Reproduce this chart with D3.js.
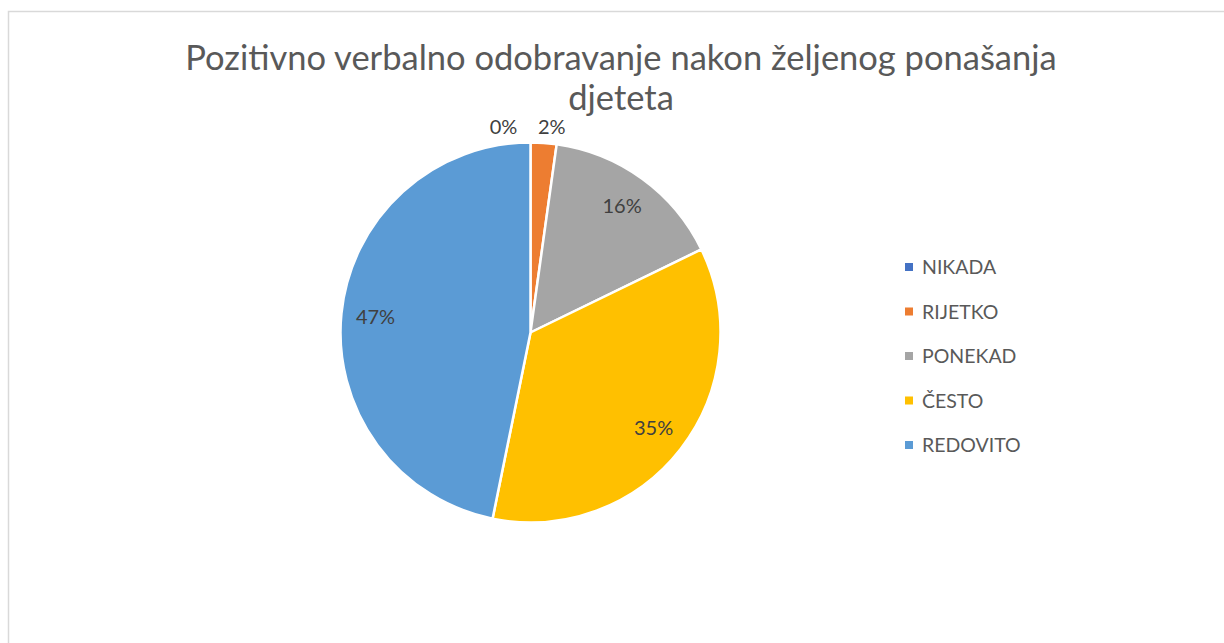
<!DOCTYPE html>
<html>
<head>
<meta charset="utf-8">
<script src="https://cdn.jsdelivr.net/npm/d3@7"></script>
<style>
  body { margin: 0; background: #fff; }
  svg text { font-family: Lato, "Open Sans", sans-serif; }
</style>
</head>
<body>
<div id="container"></div>
<script>
// chart data (percent of answers)
var categories = ["NIKADA", "RIJETKO", "PONEKAD", "ČESTO", "REDOVITO"];
var percents = [0, 2.2, 15.6, 35.4, 46.8];
var colors = ["#4472C4", "#ED7D31", "#A5A5A5", "#FFC000", "#5B9BD5"];
var titleLines = ["Pozitivno verbalno odobravanje nakon željenog ponašanja", "djeteta"];

var width = 1224, height = 643;
var cx = 530.5, cy = 332.5, radius = 190;

var svg = d3.select("#container")
  .append("svg")
  .attr("width", width)
  .attr("height", height);

// chart border (Excel style)
svg.append("rect")
  .attr("x", 8.5)
  .attr("y", 11.5)
  .attr("width", width)
  .attr("height", height)
  .style("fill", "#fff")
  .style("stroke", "#d9d9d9")
  .style("stroke-width", 1.5);

// title
svg.append("text")
  .attr("x", 621)
  .attr("y", 70)
  .attr("text-anchor", "middle")
  .style("font-size", "34.5px")
  .style("fill", "#595959")
  .selectAll("tspan")
  .data(titleLines)
  .enter().append("tspan")
  .attr("x", 621)
  .attr("dy", function(d, i) { return i === 0 ? 0 : 40; })
  .text(function(d) { return d; });

var total = d3.sum(percents);
var data = categories.map(function(c, i) { return {key: c, value: percents[i], color: colors[i]}; });

var pie = d3.pie().sort(null).value(function(d) { return d.value; });
var arcs = pie(data);

var arc = d3.arc().innerRadius(0).outerRadius(radius);
var labelArc = d3.arc().innerRadius(radius * 0.82).outerRadius(radius * 0.82);
var outerArc = d3.arc().innerRadius(radius + 16).outerRadius(radius + 16);

var g = svg.append("g").attr("transform", "translate(" + cx + "," + cy + ")");

g.selectAll("path")
  .data(arcs)
  .enter().append("path")
  .attr("d", arc)
  .style("fill", function(d) { return d.data.color; })
  .style("stroke", "#fff")
  .style("stroke-width", 2.5)
  .style("stroke-linejoin", "round");

// data labels: small slices outside at the top, the rest inside
var outsideCount = 0;
g.selectAll("text.lbl")
  .data(arcs)
  .enter().append("text")
  .attr("class", "lbl")
  .attr("text-anchor", "middle")
  .attr("dy", "0.35em")
  .style("font-size", "20px")
  .style("fill", "#404040")
  .attr("transform", function(d) {
    var p;
    if (d.data.value / total < 0.05) {
      p = outerArc.centroid(d);
      p[0] += (outsideCount === 0 ? -27 : 7);
      p[1] = -radius - 16;
      outsideCount++;
    } else {
      p = labelArc.centroid(d);
    }
    return "translate(" + p[0] + "," + p[1] + ")";
  })
  .text(function(d) { return Math.round(d.data.value / total * 100) + "%"; });

// legend
var legendY = d3.scalePoint().domain(categories).range([267, 445]);

var legend = svg.append("g");
var items = legend.selectAll("g")
  .data(data)
  .enter().append("g")
  .attr("transform", function(d) { return "translate(905," + legendY(d.key) + ")"; });

items.append("rect")
  .attr("x", 0)
  .attr("y", -4)
  .attr("width", 8)
  .attr("height", 8)
  .style("fill", function(d) { return d.color; });

items.append("text")
  .attr("x", 17)
  .attr("dy", "0.36em")
  .style("font-size", "19.5px")
  .style("fill", "#595959")
  .text(function(d) { return d.key; });
</script>
</body>
</html>
